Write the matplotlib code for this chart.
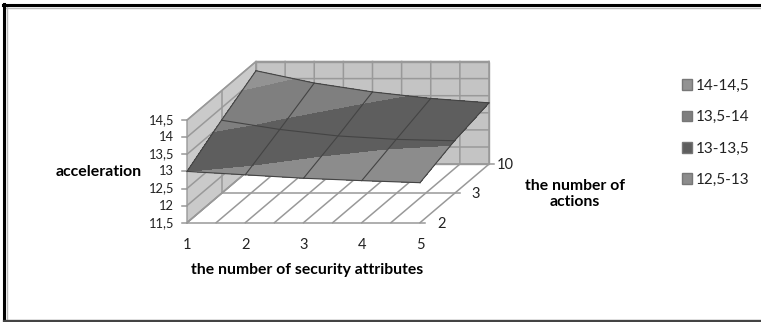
import numpy as np
import matplotlib
matplotlib.use('Agg')
import matplotlib.pyplot as plt
from matplotlib.patches import Patch, Polygon

plt.rcParams['font.family'] = ['Lato', 'DejaVu Sans']

attributes = [1, 2, 3, 4, 5]
actions = ['2', '3', '10']
# acceleration, rows follow the actions, columns the security attributes
accel_2 = [13.0, 12.9, 12.8, 12.73, 12.67]
accel_3 = [13.64, 13.37, 13.18, 13.08, 13.04]
accel_10 = [14.23, 13.87, 13.61, 13.42, 13.29]
z_ticks = [11.5, 12, 12.5, 13, 13.5, 14, 14.5]
z_labels = ['11,5', '12', '12,5', '13', '13,5', '14', '14,5']
levels = [12.5, 13, 13.5, 14, 14.5]
band_labels = ['12,5-13', '13-13,5', '13,5-14', '14-14,5']
band_colors = ['#8c8c8c', '#5e5e5e', '#7f7f7f', '#939393']


def proj(x, d, z):
    # oblique projection to pixels, d is 0..2 for the depth categories
    px = 187 + (x - 1) * 58.25 + d * 34.5
    py = 222.7 - (z - 11.5) * 34.2 - d * 29.3
    return px, py


fig = plt.figure(figsize=(7.61, 3.22), dpi=100)
ax = fig.add_axes([0, 0, 1, 1])
ax.set_xlim(0, 761)
ax.set_ylim(322, 0)
ax.axis('off')

# frame of the screenshot, open on the right
ax.plot([6.5, 6.5], [7, 320], color='#bbbbbb', lw=1)
ax.plot([6, 761], [7.5, 7.5], color='#bbbbbb', lw=1)
ax.plot([6, 761], [319.5, 319.5], color='#bbbbbb', lw=1)
ax.plot([4, 4], [3.5, 322], color='black', lw=2.2)
ax.plot([3, 761], [5, 5], color='black', lw=2.2)
ax.plot([4, 761], [321, 321], color='#444444', lw=1.6)

# walls
wall = '#c4c4c4'
grid = '#999999'
ax.add_patch(Polygon([proj(1, 0, 11.5), proj(1, 2, 11.5), proj(1, 2, 14.5), proj(1, 0, 14.5)],
                     fc='#cacaca', ec=grid, lw=1))
ax.add_patch(Polygon([proj(1, 2, 11.5), proj(5, 2, 11.5), proj(5, 2, 14.5), proj(1, 2, 14.5)],
                     fc=wall, ec=grid, lw=1))
for z in z_ticks:
    xs, ys = proj(np.array([1, 1, 5]), np.array([0, 2, 2]), z)
    ax.plot(xs, ys, color=grid, lw=1.1)
    ax.plot([xs[0] - 5, xs[0]], [ys[0], ys[0]], color=grid, lw=1.1)
for x in np.arange(1, 5.5, 0.5):
    xs, ys = proj(np.array([x, x, x]), np.array([0, 2, 2]), np.array([11.5, 11.5, 14.5]))
    ax.plot(xs, ys, color=grid, lw=1.1)
for d in [0, 1, 2]:
    xs, ys = proj(np.array([1, 5, 5.09]), np.array([d, d, d]), 11.5)
    ax.plot(xs, ys, color=grid, lw=1.1)
xs, ys = proj(np.array([1, 1]), np.array([1, 1]), np.array([11.5, 14.5]))
ax.plot(xs, ys, color=grid, lw=1.1)
for x in attributes:
    xs, ys = proj(x, 0, 11.5)
    ax.text(xs, ys + 22, str(x), ha='center', va='center', fontsize=10.5, color='#222222')

# surface
Z = np.array([accel_2, accel_3, accel_10])
X, D = np.meshgrid(attributes, [0, 1, 2])
SX, SY = proj(X, D, Z)
ax.contourf(SX, SY, Z, levels=levels, colors=band_colors, zorder=3)
for i in range(3):
    ax.plot(SX[i], SY[i], color='#444444', lw=0.8, zorder=4)
for j in range(5):
    ax.plot(SX[:, j], SY[:, j], color='#444444', lw=0.8, zorder=4)

# tick labels
for z, lab in zip(z_ticks, z_labels):
    xs, ys = proj(1, 0, z)
    ax.text(xs - 13, ys, lab, ha='right', va='center', fontsize=9.3, color='#222222')
for d, lab, off in zip([0, 1, 2], actions, [17, 17, 8]):
    xs, ys = proj(5, d, 11.5)
    ax.text(xs + off, ys + 1, lab, ha='left', va='center', fontsize=10.5, color='#222222')

ax.text(99, 172, 'acceleration', ha='center', va='center', fontsize=11.4, fontweight='bold')
ax.text(307, 270, 'the number of security attributes', ha='center', va='center',
        fontsize=11.3, fontweight='bold')
ax.text(575, 194, 'the number of\nactions', ha='center', va='center', fontsize=11.3,
        fontweight='bold', linespacing=1.2)

handles = [Patch(fc=c, ec='#777777', label=l) for c, l in zip(band_colors, band_labels)][::-1]
ax.legend(handles=handles, loc='center left', bbox_to_anchor=(668 / 761, 1 - 133 / 322), frameon=False,
          fontsize=11, handlelength=0.7, handleheight=0.7, handletextpad=0.2,
          labelspacing=1.13, labelcolor='#222222')

fig.savefig('out.png', dpi=100)
